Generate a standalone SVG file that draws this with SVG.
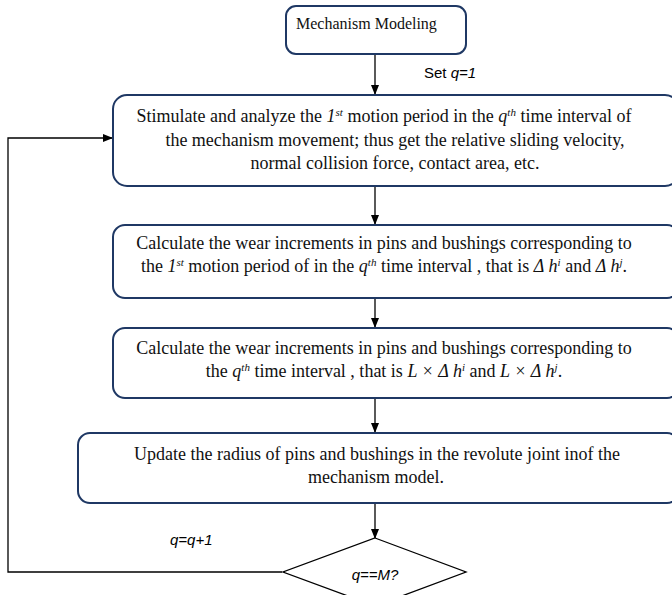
<svg xmlns="http://www.w3.org/2000/svg" width="672" height="595" viewBox="0 0 672 595">
<style>
.box{fill:#fff;stroke:#1f3864;stroke-width:2}
.t{font-family:"Liberation Serif","Times New Roman",serif;font-size:18px;fill:#111;text-anchor:middle}
.s{font-family:"Liberation Sans",Arial,sans-serif;font-size:15px;fill:#000}
.i{font-style:italic}
.c{stroke:#000;stroke-width:1.3;fill:none}
</style>
<defs>
<marker id="ah" markerWidth="10" markerHeight="10" refX="9" refY="5" orient="auto" markerUnits="userSpaceOnUse">
<path d="M0,1 L10,5 L0,9 Z" fill="#000"/>
</marker>
</defs>
<rect width="672" height="595" fill="#fff"/>
<g id="connectors">
<line class="c" x1="375" y1="54" x2="375" y2="94" marker-end="url(#ah)"/>
<line class="c" x1="375" y1="187" x2="375" y2="224" marker-end="url(#ah)"/>
<line class="c" x1="375" y1="298" x2="375" y2="327" marker-end="url(#ah)"/>
<line class="c" x1="375" y1="398" x2="375" y2="432" marker-end="url(#ah)"/>
<line class="c" x1="375" y1="503" x2="375" y2="538" marker-end="url(#ah)"/>
<polyline class="c" points="282,572 8,572 8,138 112,138" marker-end="url(#ah)"/>
<text class="s" x="424" y="78" font-size="16">Set <tspan class="i">q=1</tspan></text>
<text class="s i" x="170" y="545" font-size="16">q=q+1</text>
</g>
<g id="n1">
<rect class="box" x="286" y="6" width="180" height="48" rx="10"/>
<text x="296" y="29" style="font-family:'Liberation Serif','Times New Roman',serif;font-size:16px;fill:#111">Mechanism Modeling</text>
</g>
<g id="n2">
<rect class="box" x="113" y="95" width="566" height="91" rx="14"/>
<text class="t" x="384" y="122">Stimulate and analyze the <tspan class="i">1</tspan><tspan class="i" font-size="11" dy="-6">st</tspan><tspan dy="6"> motion period in the </tspan><tspan class="i">q</tspan><tspan class="i" font-size="11" dy="-6">th</tspan><tspan dy="6"> time interval of</tspan></text>
<text class="t" x="395" y="146">the mechanism movement; thus get the relative sliding velocity,</text>
<text class="t" x="395" y="169">normal collision force, contact area, etc.</text>
</g>
<g id="n3">
<rect class="box" x="113" y="225" width="566" height="73" rx="12"/>
<text class="t" x="384" y="249">Calculate the wear increments in pins and bushings corresponding to</text>
<text class="t" x="384" y="272">the <tspan class="i">1</tspan><tspan class="i" font-size="11" dy="-6">st</tspan><tspan dy="6"> motion period of in the </tspan><tspan class="i">q</tspan><tspan class="i" font-size="11" dy="-6">th</tspan><tspan dy="6"> time interval , that is  </tspan><tspan class="i">Δ h</tspan><tspan class="i" font-size="11" dy="-6">i</tspan><tspan dy="6"> and </tspan><tspan class="i">Δ h</tspan><tspan class="i" font-size="11" dy="-6">j</tspan><tspan dy="6">.</tspan></text>
</g>
<g id="n4">
<rect class="box" x="113" y="328" width="566" height="70" rx="12"/>
<text class="t" x="384" y="354">Calculate the wear increments in pins and bushings corresponding to</text>
<text class="t" x="384" y="377">the <tspan class="i">q</tspan><tspan class="i" font-size="11" dy="-6">th</tspan><tspan dy="6"> time interval , that is </tspan><tspan class="i">L × Δ h</tspan><tspan class="i" font-size="11" dy="-6">i</tspan><tspan dy="6"> and </tspan><tspan class="i">L × Δ h</tspan><tspan class="i" font-size="11" dy="-6">j</tspan><tspan dy="6">.</tspan></text>
</g>
<g id="n5">
<rect class="box" x="78" y="433" width="601" height="70" rx="12"/>
<text class="t" x="377" y="460">Update the radius of pins and bushings in the revolute joint inof the</text>
<text class="t" x="376" y="483">mechanism model.</text>
</g>
<g id="n6">
<polygon points="375,538 466,572 375,606 283,572" fill="#fff" stroke="#000" stroke-width="1.3"/>
<text class="s i" x="375" y="580" text-anchor="middle" font-size="17">q==M?</text>
</g>
</svg>
